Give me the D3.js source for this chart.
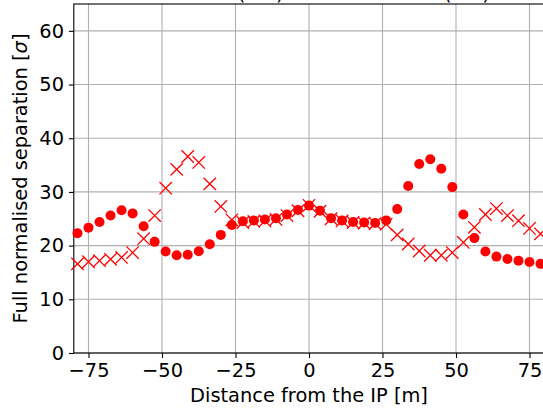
<!DOCTYPE html>
<html>
<head>
<meta charset="utf-8">
<script src="https://cdn.jsdelivr.net/npm/d3@7"></script>
<style>
  body { margin: 0; background: #fff; }
  svg { display: block; font-family: "DejaVu Sans", sans-serif; }
</style>
</head>
<body>
<script>
// distance of each scan point from the IP [m]
var distance = [-78.75, -75, -71.25, -67.5, -63.75, -60, -56.25, -52.5, -48.75, -45, -41.25,
  -37.5, -33.75, -30, -26.25, -22.5, -18.75, -15, -11.25, -7.5, -3.75, 0,
  3.75, 7.5, 11.25, 15, 18.75, 22.5, 26.25, 30, 33.75, 37.5, 41.25,
  45, 48.75, 52.5, 56.25, 60, 63.75, 67.5, 71.25, 75, 78.75]

// circles
var sepDots = [22.3, 23.35, 24.4, 25.6, 26.6, 26.0, 23.6, 20.7, 18.9, 18.2, 18.3,
  18.95, 20.25, 22.0, 23.85, 24.55, 24.7, 24.85, 25.1, 25.8, 26.65, 27.45,
  26.5, 25.1, 24.7, 24.4, 24.3, 24.2, 24.7, 26.8, 31.1, 35.2, 36.1,
  34.3, 30.9, 25.8, 21.4, 18.9, 17.95, 17.5, 17.2, 16.95, 16.6]

// crosses
var sepCross = [16.6, 17.0, 17.2, 17.45, 17.8, 18.7, 21.3, 25.6, 30.7, 34.2, 36.6,
  35.5, 31.5, 27.3, 24.8, 24.3, 24.5, 24.6, 24.9, 25.6, 26.5, 27.5,
  26.4, 25.0, 24.6, 24.3, 24.2, 24.1, 24.0, 22.0, 20.3, 19.0, 18.2,
  18.2, 18.7, 20.6, 23.4, 25.8, 26.9, 25.6, 24.65, 23.2, 22.2]

var xTicks = [-75, -50, -25, 0, 25, 50, 75]
var yTicks = [0, 10, 20, 30, 40, 50, 60]

var W = 543, H = 409
var margin = {top: 4, right: -1.2, bottom: 56, left: 73.8}
var width = W - margin.left - margin.right,
  height = H - margin.top - margin.bottom
var fs = '19.4px'

var svg = d3.select('body').append('svg')
  .attr('width', W)
  .attr('height', H)

var g = svg.append('g')
  .attr('transform', 'translate(' + margin.left + ',' + margin.top + ')')

var x = d3.scaleLinear().domain([-80, 80]).range([0, width])
var y = d3.scaleLinear().domain([0, 65]).range([height, 0])

// grid
g.append('g').selectAll('line')
  .data(xTicks)
  .enter().append('line')
    .attr('x1', d => x(d)).attr('x2', d => x(d))
    .attr('y1', 0).attr('y2', height)
    .attr('stroke', '#b0b0b0').attr('stroke-width', 1.1)
g.append('g').selectAll('line')
  .data(yTicks)
  .enter().append('line')
    .attr('x1', 0).attr('x2', width)
    .attr('y1', d => y(d)).attr('y2', d => y(d))
    .attr('stroke', '#b0b0b0').attr('stroke-width', 1.1)

// axes
var xAxis = g.append('g')
  .attr('transform', 'translate(0,' + height + ')')
  .call(d3.axisBottom(x).tickValues(xTicks).tickSize(4.9).tickPadding(4.9).tickSizeOuter(0))
var yAxis = g.append('g')
  .call(d3.axisLeft(y).tickValues(yTicks).tickSize(4.9).tickPadding(4.9).tickSizeOuter(0))

;[xAxis, yAxis].forEach(function (a) {
  a.select('.domain').remove()
  a.selectAll('line').attr('stroke', '#000').attr('stroke-width', 1.1)
  a.selectAll('text').attr('fill', '#000')
    .style('font-size', fs).style('font-family', '"DejaVu Sans", sans-serif')
})

// frame
g.append('rect')
  .attr('width', width).attr('height', height)
  .attr('fill', 'none').attr('stroke', '#000').attr('stroke-width', 1.1)

// draw crosses
var cs = 6.2
g.append('g').selectAll('path')
  .data(distance)
  .enter().append('path')
    .attr('d', function (d, i) {
      var cx = x(d), cy = y(sepCross[i])
      return 'M' + (cx - cs) + ',' + (cy - cs) + 'L' + (cx + cs) + ',' + (cy + cs) +
        'M' + (cx - cs) + ',' + (cy + cs) + 'L' + (cx + cs) + ',' + (cy - cs)
    })
    .attr('stroke', '#ff0000').attr('stroke-width', 1.3).attr('fill', 'none')

// draw dots
g.append('g').selectAll('circle')
  .data(distance)
  .enter().append('circle')
    .attr('r', 5)
    .attr('cx', d => x(d))
    .attr('cy', (d, i) => y(sepDots[i]))
    .attr('fill', '#ff0000')

// text label for the x axis
svg.append('text')
  .attr('x', margin.left + x(0))
  .attr('y', 402)
  .style('text-anchor', 'middle')
  .style('font-size', fs)
  .text('Distance from the IP [m]')

// text label for the y axis
var yl = svg.append('text')
  .attr('transform', 'translate(27,' + (margin.top + height / 2) + ') rotate(-90)')
  .style('text-anchor', 'middle')
  .style('font-size', fs)
yl.append('tspan').text('Full normalised separation [')
yl.append('tspan').style('font-style', 'italic').text('σ')
yl.append('tspan').text(']')

// title, mostly cut off by the top of the window
svg.append('text')
  .attr('x', margin.left + x(0))
  .attr('y', 0)
  .style('text-anchor', 'middle')
  .style('font-size', '20px')
  .text('Beam 1 at (IP1) and Beam 2 at (IP5)')
</script>
</body>
</html>
